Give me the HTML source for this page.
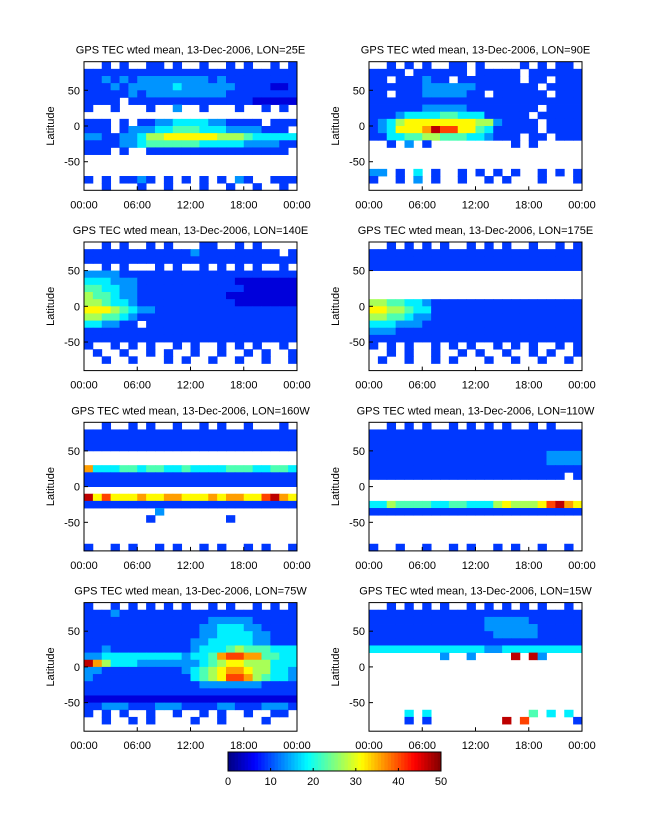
<!DOCTYPE html>
<html><head><meta charset="utf-8"><style>
body{margin:0;background:#fff}
svg{display:block;font-family:"Liberation Sans",sans-serif}
</style></head><body>
<svg id="fig" width="647" height="822" viewBox="0 0 647 822" xmlns="http://www.w3.org/2000/svg"></svg>
<script>
// Data: per panel, 18 latitude rows (90..-90, 10° each), 24 time bins (1h). '.' = no data, digit d => TEC = d*4.5, 'r' => 47
const panelTitles=["LON=25E","LON=90E","LON=140E","LON=175E","LON=160W","LON=110W","LON=75W","LON=15W"];
const xTickLabels=["00:00","06:00","12:00","18:00","00:00"];
const yTickValues=[50,0,-50];
const cbarTicks=[0,10,20,30,40,50];
const p1=["..2.2..22.2..2..2.2..2.2","222222222222222222222222","223232333333332322222222","222323333343333332222112","222223233333333322222222","2222.2222222222222211111","2..2...2..3..2...2..2.2.","........................","222.2.22334444332222.222","222.2333445554443333222.","332233466777777666544444","222233455555544444333322","222.2..2222222222222222.","........................","........................","........................","2.2.2232.2.2.2.2.32..222","..2...2..2...2..2..2..2."];
const p2=["..2.2.2..22.2....2.2.22.","2222.222222.22222.222222","22.222322.2222222.22.222","2222223333332222222.2222","22.2223333322.222222.222","222222222222222222222222","2222223333322222222.2222","222344445544422222.22222","2346777777776632222.2222","2347778r99775422222.2222","22445566555443222.22.222","..2.3.2.........2.2.....","........................","........................","........................","33.2.4.2..2.2.2.2..2.2.2","2..2.3.2..2..2.2...2...2","........................"];
const p3=["..2.2..2.2...22..2.2....","2222222222223222222222.2","222222222222222222222222","..2.2...2.2..2.2.2.2..2.","333322222222222222222222","444333222222222221111111","554433222222222222111111","655433222222222211111111","665443222222222221111111","777654332222222222222222","665543222222222222222222","443322.22222222222222222","222222222222222222222222","222222222222222222222222","2..2.2.2..2.2..2.2.2..2.",".2..2..2.2..2..2..2.2..2","..2..2...2.2..2..2..2..2","........................"];
const p4=["..2.2.2.2..2.2.2..2..2.2","222222222222222222222222","222222222222222222222222","222222222222222222222222","........................","........................","........................","........................","665544322222222222222222","776654422222222222222222","665543322222222222222222","444333222222222222222222","333222222222222222222222","222222222222222222222222","2.2.2..2.2.2..2.2.2..2.2","..2.2..2..2.2..2..2.2..2",".2..2..2.2...2..2..2..2.","........................"];
const p5=["..2..2.2..2..2.2..2...2.","222222222222222222222222","222222222222222222222222","222222222222222222222222","........................","........................","844455455445444455544554","222222222222222222222222","222222222222222222222222","........................","r79777877887778788779r87","222222222222222222222222","........3...............",".......2........2.......","........................","........................","........................","2..2.2..2.2..2.2..2.2..2"];
const p6=["..2.2.2..2.2.2.2..2.2...","222222222222222222222222","222222222222222222222222","222222222222222222222222","222222222222222222223333","222222222222222222223333","222222222222222222222222","2222222222222222222222.2","........................","........................","........................","446555544554446766679r87","222222222222222222222222","........................","........................","........................","........................","2..2..2..2.2..2.2..2..2."];
const p7=["2..2.2.2.2.2..2.2..2.2.2","222322222222222222222222","222222222222223333322222","222222222222233444332222","222222222222233444433222","222222222222334444433222","223222222222344456555444","334444444443445899885544","r86444333333345677666444","332222222223456788766443","322222222222456799865443","222222222222233333332222","222222222222222222222222","111111111111111111111111","223332223332222332223332","2.2.2..2..2..2.2..2..22.","..2..2.2....2..2....2...","........................"];
const p8=["..2.2.2.2..2.2.2.2.2..2.","222222222222222222222222","222222222222233333222222","222222222222233333322222","222222222222223333322222","222222222222222222222222","444444444444433444444444","........3..3....r.r3....","........................","........................","........................","........................","........................","........................","........................","....4.4...........5.4.4.","....2.2........r.9.....2","........................"];
const panels=[p1,p2,p3,p4,p5,p6,p7,p8];

const NS="http://www.w3.org/2000/svg";
const svg=document.getElementById('fig');
function mk(tag,attrs,parent){const e=document.createElementNS(NS,tag);for(const k in attrs)e.setAttribute(k,attrs[k]);(parent||svg).appendChild(e);return e;}
function clamp(v){return Math.max(0,Math.min(1,v));}
function jet(v){const t=clamp(v/50);const r=clamp(1.5-Math.abs(4*t-3)),g=clamp(1.5-Math.abs(4*t-2)),b=clamp(1.5-Math.abs(4*t-1));return `rgb(${Math.round(r*255)},${Math.round(g*255)},${Math.round(b*255)})`;}

const W=213,H=128.6;
panels.forEach((rows,pi)=>{
  const col=pi%2,row=Math.floor(pi/2);
  const x0=col?369:84, y0=126+180.3*row-H/2;
  const xs=t=>x0+t/24*W;
  const ys=lat=>y0+(90-lat)/180*H;
  const g=mk('g',{});
  
  
  rows.forEach((s,ri)=>{
    for(let c=0;c<24;c++){
      const ch=s[c]||'.';
      if(ch==='.')continue;
      const v=ch==='r'?47:parseInt(ch,10)*4.5;
      const r=mk('rect',{x:xs(c).toFixed(2),y:ys(90-ri*10).toFixed(2),width:(W/24+0.4).toFixed(2),height:(H/18+0.4).toFixed(2),fill:jet(v)},g);
      
      
    }
  });
  mk('rect',{x:x0,y:y0,width:W,height:H,fill:'none',stroke:'#000','stroke-width':1},g);
  const t=mk('text',{x:x0+W/2,y:y0-8,'text-anchor':'middle','font-size':11},g);
  t.textContent='GPS TEC wted mean, 13-Dec-2006, '+panelTitles[pi];
  
  
  yTickValues.forEach(v=>{
    mk('line',{x1:x0,x2:x0+4,y1:ys(v),y2:ys(v),stroke:'#000'},g);
    const l=mk('text',{x:x0-4,y:ys(v)+4,'text-anchor':'end','font-size':11},g);
    l.textContent=v;
    
    
  });
  xTickLabels.forEach((lab,i)=>{
    const x=xs(i*6);
    mk('line',{x1:x,x2:x,y1:y0+H,y2:y0+H-4,stroke:'#000'},g);
    const l=mk('text',{x:x,y:y0+H+18,'text-anchor':'middle','font-size':11},g);
    l.textContent=lab;
    
    
  });
  const yl=mk('text',{x:0,y:0,'text-anchor':'middle','font-size':11,transform:`translate(${x0-30},${y0+H/2}) rotate(-90)`},g);
  yl.textContent='Latitude';
  
  
});

const cb=mk('g',{});


const cx0=228,cw=213,cy0=752,ch=19;
for(let i=0;i<64;i++){
  mk('rect',{x:(cx0+i*cw/64).toFixed(2),y:cy0,width:(cw/64+0.4).toFixed(2),height:ch,fill:jet((i+0.5)/64*50)},cb);
}
mk('rect',{x:cx0,y:cy0,width:cw,height:ch,fill:'none',stroke:'#000'},cb);
cbarTicks.forEach(v=>{
  const x=cx0+v/50*cw;
  mk('line',{x1:x,x2:x,y1:cy0+ch,y2:cy0+ch-3,stroke:'#000'},cb);
  const l=mk('text',{x:x,y:cy0+ch+14,'text-anchor':'middle','font-size':11},cb);
  l.textContent=v;
  
  
});
</script>
</body></html>
